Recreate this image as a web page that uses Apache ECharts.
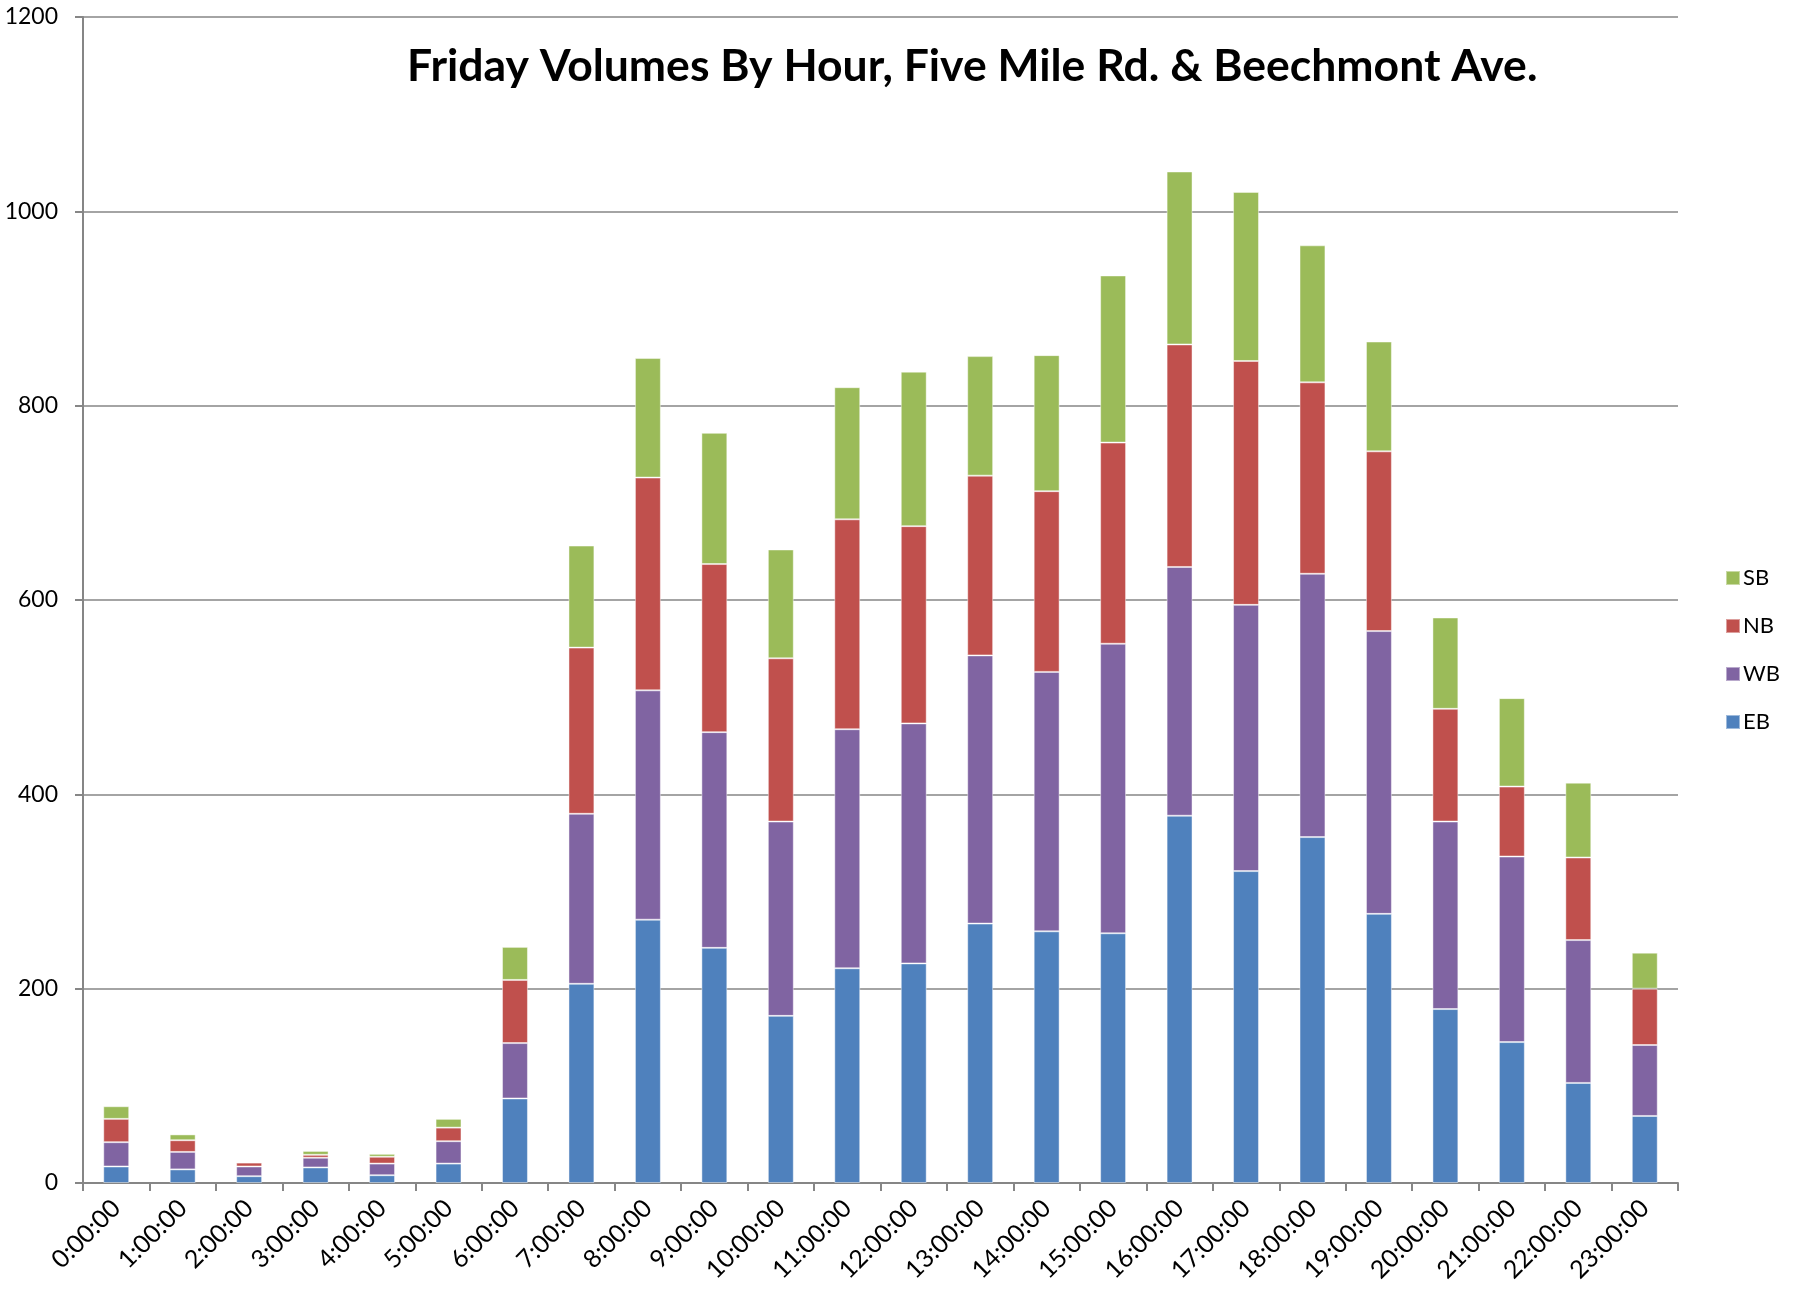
<!DOCTYPE html>
<html>
<head>
<meta charset="utf-8">
<script src="https://cdn.jsdelivr.net/npm/echarts@6/dist/echarts.min.js"></script>
<style>
    html, body { margin: 0; padding: 0; background: #fff; }
    #chart { width: 1807px; height: 1304px; }
</style>
</head>
<body>
<div id="chart"></div>
<script>
// hours of the day
const hours = [
    '0:00:00', '1:00:00', '2:00:00', '3:00:00', '4:00:00', '5:00:00',
    '6:00:00', '7:00:00', '8:00:00', '9:00:00', '10:00:00', '11:00:00',
    '12:00:00', '13:00:00', '14:00:00', '15:00:00', '16:00:00', '17:00:00',
    '18:00:00', '19:00:00', '20:00:00', '21:00:00', '22:00:00', '23:00:00'
];

// volumes per direction
const eb = [17, 14, 7, 16, 8, 20, 87, 205, 271, 242, 172, 221, 226, 267, 259, 257, 378, 321, 356, 277, 179, 145, 103, 69];
const wb = [25, 18, 10, 10, 12, 23, 57, 175, 236, 222, 200, 246, 247, 276, 267, 298, 256, 274, 271, 291, 193, 191, 147, 73];
const nb = [24, 12, 4, 3, 7, 14, 65, 171, 219, 173, 168, 216, 203, 185, 186, 207, 229, 251, 197, 185, 116, 72, 85, 58];
const sb = [13, 6, 1, 4, 3, 9, 34, 105, 123, 135, 112, 136, 159, 123, 140, 172, 178, 174, 141, 113, 94, 91, 77, 37];

const yTicks = [0, 200, 400, 600, 800, 1000, 1200];

const chart = echarts.init(document.getElementById('chart'));

const font = 'Lato, "Open Sans", sans-serif';

function barSeries(name, data, color) {
    return {
        name: name,
        type: 'bar',
        stack: 'volumes',
        barWidth: '39%',
        itemStyle: { color: color, borderColor: 'rgba(255,255,255,0.45)', borderWidth: 1 },
        data: data
    };
}

chart.setOption({
    animation: false,
    backgroundColor: '#fff',
    textStyle: { fontFamily: font },
    title: {
        text: 'Friday Volumes By Hour, Five Mile Rd. & Beechmont Ave.',
        left: 402,
        top: 39,
        textStyle: { fontFamily: font, fontSize: 44.5, fontWeight: 'bold', color: '#000' }
    },
    legend: {
        orient: 'vertical',
        left: 1720,
        top: 562,
        itemWidth: 14,
        itemHeight: 14,
        itemGap: 26,
        icon: 'rect',
        data: ['SB', 'NB', 'WB', 'EB'],
        textStyle: { fontFamily: font, fontSize: 22, color: '#000', padding: [0, 0, 0, -2] }
    },
    grid: { left: 83, right: 129, top: 17, bottom: 121, containLabel: false },
    xAxis: {
        type: 'category',
        data: hours,
        axisLine: { lineStyle: { color: '#868686', width: 2 } },
        axisTick: { show: true, length: 8, alignWithLabel: false, lineStyle: { color: '#868686', width: 2 } },
        axisLabel: { rotate: 45, fontSize: 25, color: '#000', margin: 21, fontFamily: font }
    },
    yAxis: {
        type: 'value',
        min: yTicks[0],
        max: yTicks[yTicks.length - 1],
        interval: 200,
        axisLine: { show: true, lineStyle: { color: '#868686', width: 2 } },
        axisTick: { show: true, length: 8, lineStyle: { color: '#868686', width: 2 } },
        axisLabel: { fontSize: 23, color: '#000', margin: 25, fontFamily: font, formatter: (v) => String(v) },
        splitLine: { lineStyle: { color: '#868686', width: 1.5 } }
    },
    series: [
        barSeries('EB', eb, '#4F81BD'),
        barSeries('WB', wb, '#8064A2'),
        barSeries('NB', nb, '#C0504D'),
        barSeries('SB', sb, '#9BBB59')
    ]
});
</script>
</body>
</html>
